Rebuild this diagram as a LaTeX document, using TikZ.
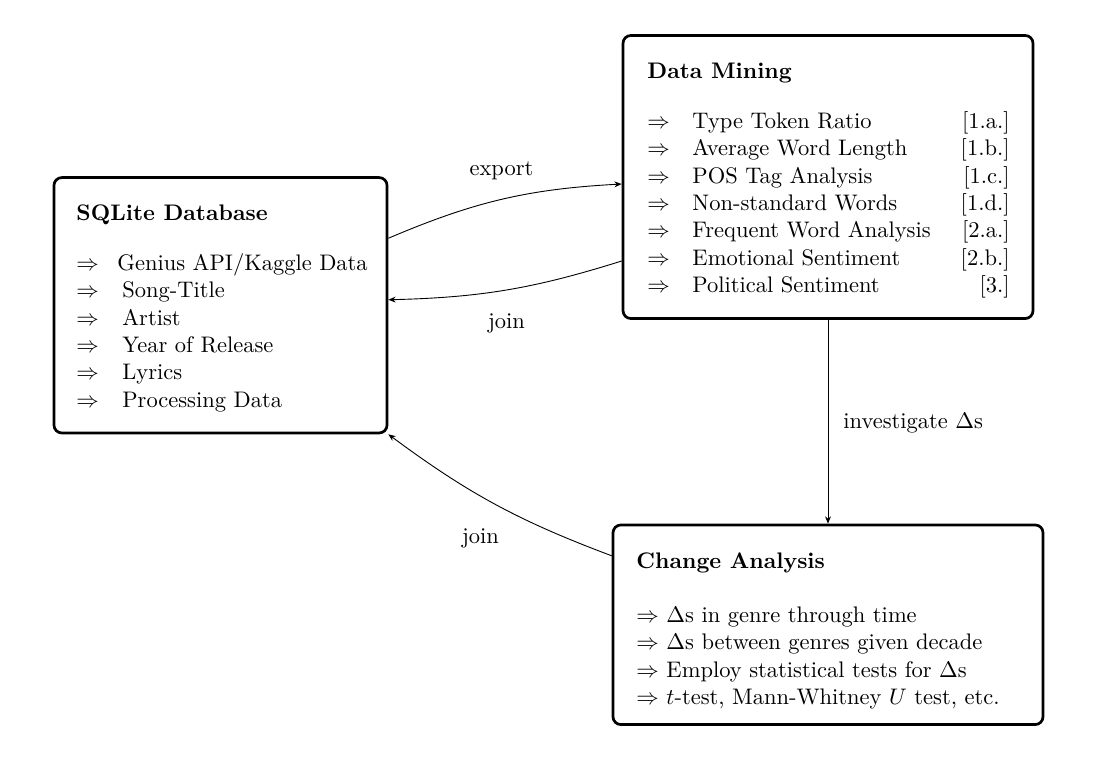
\documentclass[tikz,border=0pt]{standalone}
\usetikzlibrary{arrows.meta,calc}
\renewcommand{\arraystretch}{1.012}
\begin{document}
\begin{tikzpicture}[x=0.4444pt,y=-0.4444pt,
  box/.style={draw, rectangle, line width=1.2pt, rounded corners=3.5pt, inner sep=0pt},
  txt/.style={inner sep=0pt, anchor=base west},
  lbl/.style={inner sep=0pt},
  arr/.style={-{Stealth[length=3.2pt,width=2.6pt,inset=1pt]}, line width=0.4pt}]
\useasboundingbox (0,0) rectangle (1098,763);

% boxes
\node[box, minimum width=148pt, minimum height=113.5pt] (sql) at (220.5,305.25) {};
\node[box, minimum width=182.2pt, minimum height=125.8pt] (dm) at (828,177) {};
\node[box, minimum width=191.1pt, minimum height=88.7pt] (ca) at (828,624.75) {};

% SQLite contents
\node[txt] (sqlh) at (76,220.5) {\textbf{SQLite Database}};
\node[txt] (sqlr) at (76,270.5) {\begin{tabular}[t]{@{}l@{\hspace{10.4pt}}l@{}}
$\Rightarrow$ & \hspace{-2.2pt}Genius API/Kaggle Data\\
$\Rightarrow$ & Song-Title\\
$\Rightarrow$ & Artist\\
$\Rightarrow$ & Year of Release\\
$\Rightarrow$ & Lyrics\\
$\Rightarrow$ & Processing Data
\end{tabular}};

% Data Mining contents
\node[txt] (dmh) at (647,78.5) {\textbf{Data Mining}};
\node[txt] (dmr) at (647,128.5) {\begin{tabular*}{160.9pt}[t]{@{}l@{\hspace{10pt}}l@{\extracolsep{\fill}}r@{}}
$\Rightarrow$ & Type Token Ratio & [1.a.]\\
$\Rightarrow$ & Average Word Length & [1.b.]\\
$\Rightarrow$ & POS Tag Analysis & [1.c.]\\
$\Rightarrow$ & Non-standard Words & [1.d.]\\
$\Rightarrow$ & Frequent Word Analysis & [2.a.]\\
$\Rightarrow$ & Emotional Sentiment & [2.b.]\\
$\Rightarrow$ & Political Sentiment & [3.]
\end{tabular*}};

% Change Analysis contents
\node[txt] (cah) at (636,568.5) {\textbf{Change Analysis}};
\node[txt] (car) at (636,622.5) {\begin{tabular}[t]{@{}l@{}}
$\Rightarrow$ $\Delta$s in genre through time\\
$\Rightarrow$ $\Delta$s between genres given decade\\
$\Rightarrow$ Employ statistical tests for $\Delta$s\\
$\Rightarrow$ $t$-test, Mann-Whitney $U$ test, etc.
\end{tabular}};

% connectors
\draw[arr] ($(sql.east)+(0,-67)$) to[bend left=10] ($(dm.west)+(0,7)$);
\draw[arr] ($(dm.west)+(0,84)$) to[bend left=8] ($(sql.east)+(0,-5.5)$);
\draw[arr] (dm.south) -- (ca.north);
\draw[arr] ($(ca.west)+(0,-69)$) to[bend left=8] (sql.south east);

% labels
\node[lbl, anchor=base] (lexport) at (501.5,175) {export};
\node[lbl, anchor=base] (ljoina) at (506.5,328) {join};
\node[lbl, anchor=base] (ljoinb) at (480.5,543) {join};
\node[lbl, anchor=base west] (linv) at (843,428.5) {investigate $\Delta$s};
\end{tikzpicture}
\end{document}
